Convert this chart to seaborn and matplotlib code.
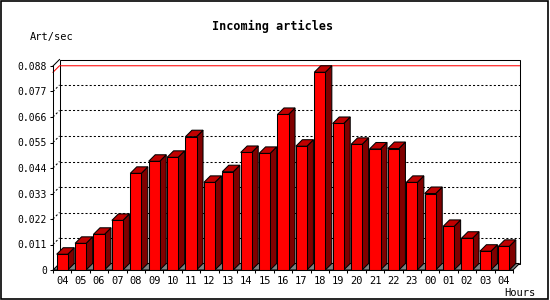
import numpy as np
import pandas as pd
import matplotlib
matplotlib.use("Agg")
import matplotlib.pyplot as plt
from matplotlib.patches import Polygon, Rectangle
import seaborn as sns

hours = ["04", "05", "06", "07", "08", "09", "10", "11", "12", "13", "14", "15",
         "16", "17", "18", "19", "20", "21", "22", "23", "00", "01", "02", "03", "04"]
rates = [0.0068, 0.0115, 0.0154, 0.0214, 0.0417, 0.0469, 0.0486, 0.0575, 0.0378,
         0.0424, 0.0507, 0.0503, 0.0671, 0.0534, 0.0853, 0.0632, 0.0542, 0.0522,
         0.0524, 0.0378, 0.0330, 0.0188, 0.0137, 0.0081, 0.0102]
yticks = [0, 0.011, 0.022, 0.033, 0.044, 0.055, 0.066, 0.077, 0.088]
ytick_labels = ["0", "0.011", "0.022", "0.033", "0.044", "0.055", "0.066", "0.077", "0.088"]

df = pd.DataFrame({"idx": np.arange(len(hours)), "rate": rates})

plt.rcParams["font.family"] = ["DejaVu Sans Mono"]

W, H = 550, 300
fig = plt.figure(figsize=(5.5, 3), dpi=100)
ax_l, ax_b, ax_w, ax_h = 53, 30, 460, 204
ax = fig.add_axes([ax_l / W, ax_b / H, ax_w / W, ax_h / H])
ax.set_facecolor("none")

sns.barplot(data=df, x="idx", y="rate", ax=ax, color="#ff0000", saturation=1,
            width=0.6, edgecolor="black", linewidth=0.75, zorder=3)

n = len(hours)
xmin, xmax = -0.5, n - 0.5
ymax = yticks[-1]
ax.set_xlim(xmin, xmax)
ax.set_ylim(0, ymax)

depth_px = 6.5
dx = depth_px / ax_w * (xmax - xmin)
dy = depth_px / ax_h * ymax

lw = 0.75
# back wall
ax.add_patch(Rectangle((xmin + dx, dy), xmax - xmin, ymax, facecolor="white",
                       edgecolor="black", linewidth=lw, clip_on=False, zorder=0.5))
# floor
ax.add_patch(Polygon([(xmin, 0), (xmax, 0), (xmax + dx, dy), (xmin + dx, dy)],
                     closed=True, facecolor="#808080", edgecolor="black",
                     linewidth=lw, clip_on=False, zorder=0.7))
# left wall top edge
ax.plot([xmin, xmin + dx], [ymax, ymax + dy], color="black", lw=lw,
        clip_on=False, zorder=0.8)
# grid lines
for v in yticks[1:-1]:
    ax.plot([xmin + dx, xmax + dx], [v + dy, v + dy], color="black", lw=lw,
            linestyle=(0, (2, 2)), clip_on=False, zorder=0.6)
    ax.plot([xmin, xmin + dx], [v, v + dy], color="black", lw=lw,
            linestyle=(0, (2, 2)), clip_on=False, zorder=0.6)
# max line
mx = max(rates)
ax.plot([xmin, xmin + dx, xmax + dx], [mx, mx + dy, mx + dy], color="#ff0000",
        lw=lw, clip_on=False, zorder=0.65)

# 3D sides and tops from bar patches
for p in list(ax.patches):
    if not isinstance(p, Rectangle) or p.get_facecolor()[:3] != (1.0, 0.0, 0.0):
        continue
    x0 = p.get_x()
    w = p.get_width()
    h = p.get_height()
    x1 = x0 + w
    side = Polygon([(x1, 0), (x1 + dx, dy), (x1 + dx, h + dy), (x1, h)], closed=True,
                   facecolor="#800000", edgecolor="black", linewidth=lw,
                   clip_on=False, zorder=2.9)
    top = Polygon([(x0, h), (x0 + dx, h + dy), (x1 + dx, h + dy), (x1, h)], closed=True,
                  facecolor="#c00000", edgecolor="black", linewidth=lw,
                  clip_on=False, zorder=2.9)
    ax.add_patch(side)
    ax.add_patch(top)

# spines
for s in ["top", "right"]:
    ax.spines[s].set_visible(False)
for s in ["left", "bottom"]:
    ax.spines[s].set_linewidth(lw)
    ax.spines[s].set_color("black")
    ax.spines[s].set_zorder(5)

ax.set_yticks(yticks)
ax.set_yticklabels(ytick_labels)
ax.tick_params(axis="y", length=2.2, width=lw, pad=2, labelsize=7, colors="black")

ax.set_xticks(np.arange(n))
ax.set_xticklabels(hours)
ax.set_xticks(np.arange(n + 1) - 0.5, minor=True)
ax.tick_params(axis="x", which="major", length=0, pad=4, labelsize=7.5, colors="black")
ax.tick_params(axis="x", which="minor", length=2.5, width=lw, colors="black")
ax.set_xlabel("")
ax.set_ylabel("")

fig.text(273 / W, 1 - 26.7 / H, "Incoming articles", ha="center", va="center",
         fontsize=8.5, fontweight="bold", color="black")
fig.text(29.5 / W, 1 - 37 / H, "Art/sec", ha="left", va="center", fontsize=7.5,
         color="black")
fig.text(504 / W, 1 - 292.5 / H, "Hours", ha="left", va="center", fontsize=7.5,
         color="black")

fig.add_artist(Rectangle((0.6 / W, 1.0 / H), 547.6 / W, 298.4 / H, transform=fig.transFigure,
                         facecolor="none", edgecolor="black", linewidth=1.2))

fig.savefig("out.png", dpi=100)
